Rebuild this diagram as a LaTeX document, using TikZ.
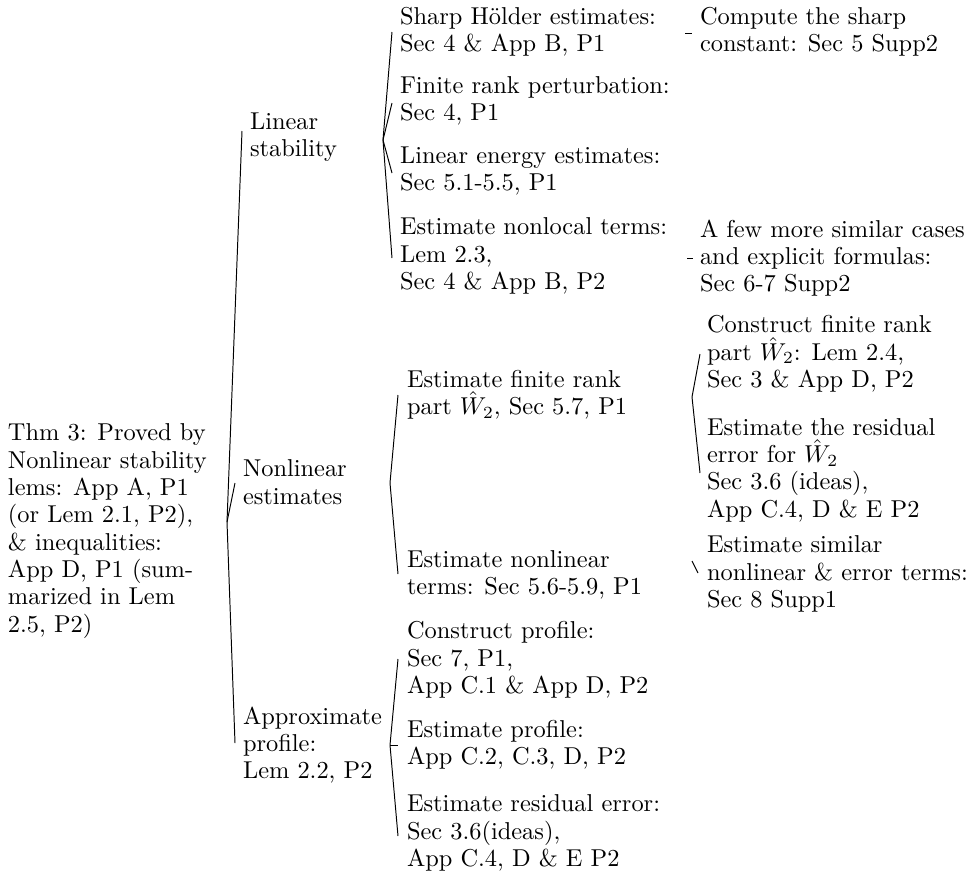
\documentclass[tikz,border=0pt]{standalone}
\begin{document}
\begin{tikzpicture}[x=0.4098pt,y=-0.4098pt,
  tx/.style={anchor=west, inner sep=0pt, outer sep=0pt, align=left, font=\fontsize{10}{11.2}\selectfont},
  edge/.style={draw=black, line width=0.4pt}]
\useasboundingbox (0,0) rectangle (967,871);
% root
\node[tx] (root) at (8,531) {Thm 3: Proved by\\ Nonlinear stability\\ lems: App A, P1\\ (or Lem 2.1, P2),\\ \& inequalities:\\ App D, P1 (sum-\\ marized in Lem\\ 2.5, P2)};
% level 1
\node[tx] (ls) at (250,137) {Linear\\ stability};
\node[tx] (nl) at (243,482) {Nonlinear\\ estimates};
\node[tx] (ap) at (243,745) {Approximate\\ profile:\\ Lem 2.2, P2};
% level 2
\node[tx] (sh) at (400,32) {Sharp Hölder estimates:\\ Sec 4 \& App B, P1};
\node[tx] (fr) at (400,101) {Finite rank perturbation:\\ Sec 4, P1};
\node[tx] (le) at (400,171) {Linear energy estimates:\\ Sec 5.1-5.5, P1};
\node[tx] (en) at (400,256) {Estimate nonlocal terms:\\ Lem 2.3,\\ Sec 4 \& App B, P2};
\node[tx] (ef) at (407,395) {Estimate finite rank\\ part $\hat{W}_2$, Sec 5.7, P1};
\node[tx] (enl) at (407,575) {Estimate nonlinear\\ terms: Sec 5.6-5.9, P1};
\node[tx] (cp) at (407,660) {Construct profile:\\ Sec 7, P1,\\ App C.1 \& App D, P2};
\node[tx] (ep) at (407,745) {Estimate profile:\\ App C.2, C.3, D, P2};
\node[tx] (er) at (407,833) {Estimate residual error:\\ Sec 3.6(ideas),\\ App C.4, D \& E P2};
% level 3
\node[tx] (cs) at (700,32) {Compute the sharp\\ constant: Sec 5 Supp2};
\node[tx] (af) at (700,258) {A few more similar cases\\ and explicit formulas:\\ Sec 6-7 Supp2};
\node[tx] (cf) at (707,354) {Construct finite rank\\ part $\hat{W}_2$: Lem 2.4,\\ Sec 3 \& App D, P2};
\node[tx] (etr) at (707,470) {Estimate the residual\\ error for $\hat{W}_2$\\ Sec 3.6 (ideas),\\ App C.4, D \& E P2};
\node[tx] (es) at (707,574) {Estimate similar\\ nonlinear \& error terms:\\ Sec 8 Supp1};
% tips
\coordinate (rt) at (227,522);
\coordinate (lst) at (383,140);
\coordinate (nlt) at (390,483);
\coordinate (apt) at (390,745);
\coordinate (sht) at (685,33);
\coordinate (ent) at (687,258);
\coordinate (eft) at (692,397);
\coordinate (enlt) at (692,561);
% edges
\draw[edge] (rt) -- ([shift={(-8,-6)}]ls.west);
\draw[edge] (rt) -- ([shift={(-8,1)}]nl.west);
\draw[edge] (rt) -- ([shift={(-8,-2)}]ap.west);
\draw[edge] (lst) -- ([shift={(-8,0)}]sh.west);
\draw[edge] (lst) -- ([shift={(-8,2)}]fr.west);
\draw[edge] (lst) -- ([shift={(-8,2)}]le.west);
\draw[edge] (lst) -- ([shift={(-8,2)}]en.west);
\draw[edge] (nlt) -- ([shift={(-9,0)}]ef.west);
\draw[edge] (nlt) -- ([shift={(-9,-1)}]enl.west);
\draw[edge] (apt) -- ([shift={(-9,-1)}]cp.west);
\draw[edge] (apt) -- ([shift={(-9,0)}]ep.west);
\draw[edge] (apt) -- ([shift={(-9,3)}]er.west);
\draw[edge] (sht) -- ([shift={(-8,1)}]cs.west);
\draw[edge] (ent) -- ([shift={(-7,0)}]af.west);
\draw[edge] (eft) -- ([shift={(-7,0)}]cf.west);
\draw[edge] (eft) -- ([shift={(-7,3)}]etr.west);
\draw[edge] (enlt) -- ([shift={(-9,-1)}]es.west);
\end{tikzpicture}
\end{document}
